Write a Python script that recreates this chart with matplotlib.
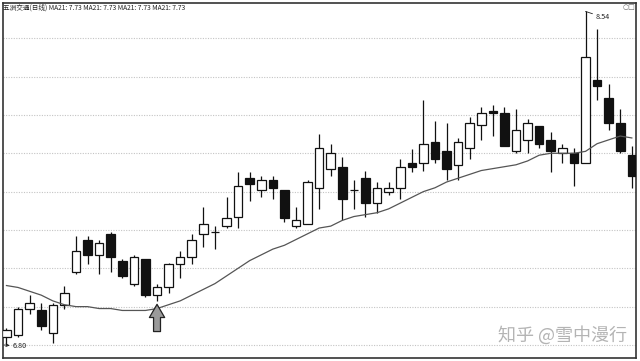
import numpy as np
import matplotlib
matplotlib.use('Agg')
import matplotlib.pyplot as plt

plt.rcParams['font.family'] = ['Noto Sans CJK SC', 'DejaVu Sans']

# daily candles
opens = [6.84, 6.85, 6.99, 6.98, 6.86, 7.01, 7.18, 7.35, 7.27, 7.38,
         7.24, 7.12, 7.25, 7.06, 7.10, 7.22, 7.26, 7.38, 7.39, 7.42,
         7.47, 7.67, 7.61, 7.66, 7.61, 7.42, 7.43, 7.62, 7.72, 7.73,
         7.61, 7.67, 7.54, 7.60, 7.62, 7.75, 7.75, 7.86, 7.81, 7.74,
         7.83, 7.95, 8.02, 8.01, 7.81, 7.87, 7.94, 7.87, 7.80, 7.80,
         7.75, 8.18, 8.09, 7.96, 7.79]
highs = [6.89, 7.00, 7.06, 7.02, 7.02, 7.11, 7.37, 7.37, 7.35, 7.39,
         7.25, 7.27, 7.25, 7.12, 7.23, 7.29, 7.38, 7.52, 7.42, 7.57,
         7.70, 7.70, 7.68, 7.68, 7.61, 7.52, 7.66, 7.90, 7.85, 7.78,
         7.66, 7.71, 7.65, 7.65, 7.77, 7.82, 8.08, 7.97, 7.96, 7.88,
         7.99, 8.04, 8.05, 8.04, 8.03, 7.98, 7.94, 7.91, 7.85, 7.83,
         8.54, 8.45, 8.16, 8.03, 7.84]
lows = [6.80, 6.84, 6.96, 6.88, 6.81, 6.99, 7.17, 7.22, 7.17, 7.18,
        7.15, 7.11, 7.05, 7.03, 7.07, 7.15, 7.22, 7.31, 7.30, 7.41,
        7.41, 7.55, 7.57, 7.56, 7.44, 7.41, 7.43, 7.51, 7.68, 7.45,
        7.51, 7.47, 7.49, 7.58, 7.56, 7.70, 7.71, 7.75, 7.66, 7.66,
        7.77, 7.87, 7.89, 7.84, 7.80, 7.80, 7.83, 7.70, 7.75, 7.63,
        7.75, 8.08, 7.92, 7.80, 7.62]
closes = [6.88, 6.99, 7.02, 6.90, 7.01, 7.07, 7.29, 7.27, 7.33, 7.26,
          7.16, 7.26, 7.06, 7.10, 7.22, 7.26, 7.35, 7.43, 7.39, 7.46,
          7.63, 7.64, 7.66, 7.62, 7.46, 7.45, 7.65, 7.83, 7.80, 7.56,
          7.61, 7.54, 7.62, 7.62, 7.73, 7.73, 7.85, 7.77, 7.72, 7.86,
          7.96, 8.01, 8.01, 7.84, 7.92, 7.96, 7.85, 7.81, 7.83, 7.75,
          8.30, 8.15, 7.96, 7.81, 7.68]
ma21 = [7.11, 7.10, 7.08, 7.06, 7.03, 7.01, 7.00, 7.00, 6.99, 6.99,
        6.98, 6.98, 6.98, 6.99, 7.01, 7.03, 7.06, 7.09, 7.12, 7.16,
        7.20, 7.24, 7.27, 7.30, 7.32, 7.35, 7.38, 7.41, 7.42, 7.45,
        7.47, 7.48, 7.49, 7.51, 7.54, 7.57, 7.60, 7.62, 7.65, 7.67,
        7.69, 7.71, 7.72, 7.73, 7.74, 7.76, 7.79, 7.80, 7.80, 7.80,
        7.81, 7.85, 7.87, 7.89, 7.88]

grid_levels = [6.8, 7.0, 7.2, 7.4, 7.6, 7.8, 8.0, 8.2, 8.4]
title = '五洲交通(日线) MA21: 7.73 MA21: 7.73 MA21: 7.73 MA21: 7.73'
signal_day = 13

opens = np.array(opens)
closes = np.array(closes)
highs = np.array(highs)
lows = np.array(lows)
x = np.arange(len(opens))

fig = plt.figure(figsize=(6.4, 3.61), dpi=100)
ax = fig.add_axes([3 / 640, 3 / 361, 633 / 640, 355 / 361])

for lvl in grid_levels:
  ax.axhline(lvl, color='#c4c4c4', lw=0.8, ls=(0, (1, 1.3)), zorder=0)

ax.vlines(x, lows, highs, color='#111111', lw=0.9, zorder=2)

up = closes >= opens
bottoms = np.minimum(opens, closes)
heights = np.abs(closes - opens)
ax.bar(x[up], heights[up], bottom=bottoms[up], width=0.74,
       facecolor='white', edgecolor='#111111', lw=0.9, zorder=3)
ax.bar(x[~up], heights[~up], bottom=bottoms[~up], width=0.74,
       facecolor='#111111', edgecolor='#111111', lw=0.9, zorder=3)

ax.plot(x, ma21, color='#555555', lw=0.9, zorder=4)

# buy signal arrow under the low candle
tip = lows[signal_day] - 0.018
ax.annotate('', xy=(signal_day, tip), xytext=(signal_day, tip - 0.142),
            arrowprops=dict(arrowstyle='simple,head_length=0.95,head_width=1.1,tail_width=0.5',
                            fc='#9a9a9a', ec='#222222', lw=0.9,
                            shrinkA=0, shrinkB=0), zorder=5)

# max / min markers
imax = int(np.argmax(highs))
ax.annotate('%.2f' % highs[imax], xy=(imax, highs[imax]), xytext=(7, -4),
            textcoords='offset points', fontsize=5.2, color='#222222',
            va='center', ha='left',
            arrowprops=dict(arrowstyle='-', color='#222222', lw=0.6,
                            shrinkA=0, shrinkB=0))
imin = int(np.argmin(lows))
ax.annotate('%.2f' % lows[imin], xy=(imin - 0.2, lows[imin]), xytext=(6, -1),
            textcoords='offset points', fontsize=5.2, color='#222222',
            va='center', ha='left',
            arrowprops=dict(arrowstyle='<-', color='#222222', lw=0.6,
                            shrinkA=0, shrinkB=0))

ax.text(0.0, 0.997, title, transform=ax.transAxes, fontsize=4.8,
        color='#222222', va='top', ha='left')
fig.text(0.993, 0.99, '○□', fontsize=5, color='#666666', va='top', ha='right',
         family='DejaVu Sans')

ax.text(0.985, 0.065, '知乎 @雪中漫行', transform=ax.transAxes, fontsize=13,
        color='#b4b4b4', va='center', ha='right', zorder=6)

ax.set_xlim(-0.30, 54.36)
ax.set_ylim(6.732, 8.584)
ax.set_xticks([])
ax.set_yticks([])
for s in ax.spines.values():
  s.set_color('#333333')
  s.set_linewidth(1.2)

fig.savefig('out.png', dpi=100)
